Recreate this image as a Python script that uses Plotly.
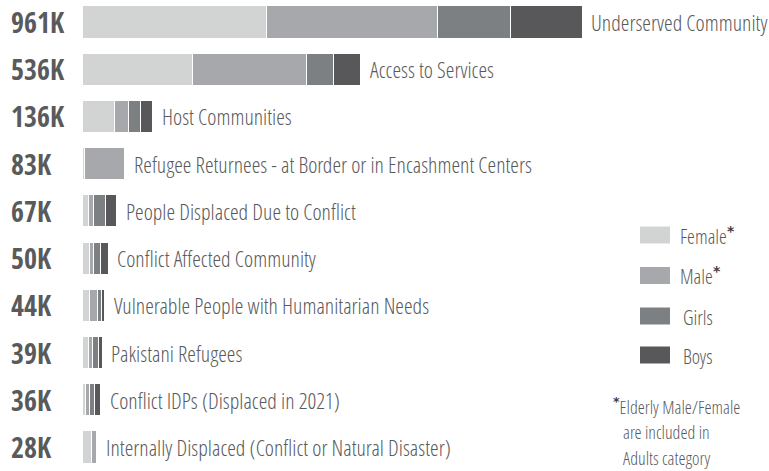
import plotly.graph_objects as go

categories = [
    "Underserved Community",
    "Access to Services",
    "Host Communities",
    "Refugee Returnees - at Border or in Encashment Centers",
    "People Displaced Due to Conflict",
    "Conflict Affected Community",
    "Vulnerable People with Humanitarian Needs",
    "Pakistani Refugees",
    "Conflict IDPs (Displaced in 2021)",
    "Internally Displaced (Conflict or Natural Disaster)",
]
total_labels = ["961K", "536K", "136K", "83K", "67K", "50K", "44K", "39K", "36K", "28K"]

# values in thousands
female = [354, 213, 63, 4, 12, 14, 15, 12, 7, 19]
male = [330, 218, 27, 77, 11, 9, 15, 9, 8, 9]
girls = [140, 53, 22, 1, 22, 12, 8, 10, 9, 0]
boys = [137, 52, 24, 1, 22, 15, 6, 8, 12, 0]

series = [
    ("Female", female, "#d2d4d3"),
    ("Male", male, "#a7a8ab"),
    ("Girls", girls, "#7d8082"),
    ("Boys", boys, "#58585a"),
]

FONT = "Open Sans Condensed Light, Roboto Condensed, sans-serif"
BOLD = "Open Sans Condensed, Roboto Condensed, sans-serif"
TXT = "#595a5c"
W, H = 769, 471

rows = list(range(len(categories)))
fig = go.Figure()
for name, vals, col in series:
    fig.add_trace(go.Bar(
        y=rows, x=vals, orientation="h", name=name, width=0.68,
        marker=dict(color=col, line=dict(color="white", width=1)),
        showlegend=False, hoverinfo="x+name",
    ))

totals = [f + m + g + b for f, m, g, b in zip(female, male, girls, boys)]

px_per_k = 500 / 961.0
left_px = 82
xmin = -left_px / px_per_k
xmax = (W - left_px) / px_per_k
row_px = 425 / 9.0
ymin = -22 / row_px
ymax = 9 + (H - 447) / row_px

anns = []
for i, (lab, cat, tot) in enumerate(zip(total_labels, categories, totals)):
    anns.append(dict(x=xmin + 9 / px_per_k, y=i, xref="x", yref="y", text=f"<b>{lab}</b>",
                     showarrow=False, xanchor="left", yanchor="middle",
                     font=dict(family=BOLD, size=28, color=TXT)))
    anns.append(dict(x=tot, y=i, xref="x", yref="y", text=cat, xshift=7,
                     showarrow=False, xanchor="left", yanchor="middle",
                     font=dict(family=FONT, size=22, color=TXT)))

STAR = "<sup><span style='font-family:DejaVu Sans;font-weight:bold;color:#404042'>*</span></sup>"

shapes = []
legend_items = [("Female" + STAR, "#d2d4d3", 235, 678),
                ("Male" + STAR, "#a7a8ab", 275.5, 678),
                ("Girls", "#7d8082", 316, 681),
                ("Boys", "#58585a", 355, 681)]
for text, col, cy, tx in legend_items:
    shapes.append(dict(type="rect", xref="paper", yref="paper",
                       x0=640 / W, x1=670 / W, y0=1 - (cy + 8.5) / H, y1=1 - (cy - 8.5) / H,
                       fillcolor=col, line=dict(width=0)))
    anns.append(dict(x=tx / W, y=1 - (cy + 1) / H, xref="paper", yref="paper", text=text,
                     showarrow=False, xanchor="left", yanchor="middle",
                     font=dict(family=FONT, size=20, color=TXT)))

foot = [STAR + "Elderly Male/Female", "are included in", "Adults category"]
foot_x = [611, 621, 621]
foot_y = [406, 432, 458]
for t, fx, fy in zip(foot, foot_x, foot_y):
    anns.append(dict(x=fx / W, y=1 - fy / H, xref="paper", yref="paper", text=t,
                     showarrow=False, xanchor="left", yanchor="middle",
                     font=dict(family=FONT, size=18, color=TXT)))

fig.update_layout(
    width=W, height=H, barmode="stack",
    margin=dict(l=0, r=0, t=0, b=0),
    paper_bgcolor="white", plot_bgcolor="white",
    xaxis=dict(range=[xmin, xmax], visible=False, fixedrange=True),
    yaxis=dict(range=[ymax, ymin], visible=False, fixedrange=True),
    annotations=anns, shapes=shapes,
)
fig.write_html("out.html", config={"displayModeBar": False},
               post_script="document.body.style.margin='0';")
